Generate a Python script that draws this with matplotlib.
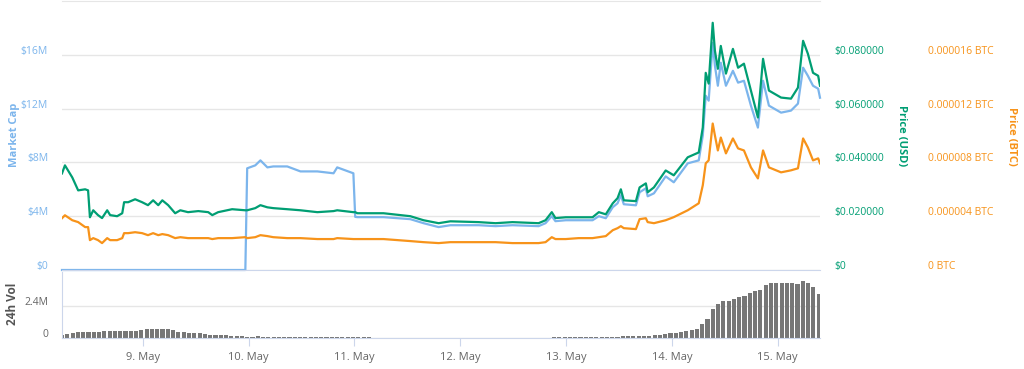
import matplotlib
matplotlib.use("Agg")
import matplotlib.pyplot as plt
import matplotlib.dates as mdates
import matplotlib.transforms as mtransforms
from matplotlib.ticker import FuncFormatter
import pandas as pd

plt.rcParams['font.family'] = ['Open Sans', 'DejaVu Sans']

# время точек (май 2018)
times = [
    "05-08 05:40", "05-08 06:20", "05-08 08:00", "05-08 09:20", "05-08 10:55",
    "05-08 11:35", "05-08 12:00", "05-08 12:45", "05-08 13:50", "05-08 14:45",
    "05-08 15:55", "05-08 16:35", "05-08 18:10", "05-08 19:20", "05-08 19:45",
    "05-08 20:40", "05-08 22:15", "05-08 23:50", "05-09 01:10", "05-09 02:20",
    "05-09 03:30", "05-09 04:25", "05-09 05:45", "05-09 07:20", "05-09 08:30",
    "05-09 10:15", "05-09 12:35", "05-09 14:50", "05-09 15:45", "05-09 17:05",
    "05-09 20:15", "05-09 23:15", "05-09 23:40", "05-10 01:30", "05-10 02:40",
    "05-10 04:15", "05-10 05:35", "05-10 08:45", "05-10 11:45", "05-10 15:35",
    "05-10 19:15", "05-10 20:05", "05-10 23:45", "05-11 00:10", "05-11 00:40",
    "05-11 06:35", "05-11 12:40", "05-11 15:40", "05-11 19:05", "05-11 21:45",
    "05-12 04:10", "05-12 08:00", "05-12 11:50", "05-12 17:45", "05-12 19:20",
    "05-12 20:45", "05-12 21:35", "05-12 23:55", "05-13 02:50", "05-13 06:00",
    "05-13 07:25", "05-13 09:00", "05-13 10:35", "05-13 11:40", "05-13 12:25",
    "05-13 13:05", "05-13 15:50", "05-13 16:40", "05-13 18:05", "05-13 18:30",
    "05-13 19:55", "05-13 22:35", "05-14 00:25", "05-14 03:35", "05-14 06:05",
    "05-14 07:00", "05-14 07:40", "05-14 08:20", "05-14 09:15", "05-14 09:45",
    "05-14 10:25", "05-14 11:05", "05-14 12:15", "05-14 13:50", "05-14 15:00",
    "05-14 16:20", "05-14 17:55", "05-14 19:30", "05-14 20:40", "05-14 22:00",
    "05-15 00:45", "05-15 03:00", "05-15 04:35", "05-15 05:45", "05-15 06:50",
    "05-15 08:00", "05-15 09:10", "05-15 09:35",
]

# капитализация, млн $
market_cap = [0] * 32 + [
    7.56, 7.78, 8.15, 7.63, 7.70, 7.70, 7.33, 7.33, 7.19, 7.63,
    7.19, 3.95, 3.93, 3.93, 3.78, 3.48, 3.19, 3.33, 3.33, 3.26,
    3.33, 3.26, 3.48, 4.00, 3.63, 3.70, 3.70, 3.70, 4.00, 3.85,
    4.67, 4.96, 5.56, 4.89, 4.81, 5.78, 6.07, 5.48, 5.70, 6.96,
    6.52, 7.93, 8.15, 10.0, 12.96, 12.59, 16.89, 15.19, 13.70, 15.41,
    13.70, 14.81, 13.93, 14.07, 12.22, 10.59, 14.07, 12.22, 11.70, 11.85,
    12.37, 15.04, 14.44, 13.70, 13.48, 12.81,
]

# цена в $
price_usd = [
    0.0359, 0.0389, 0.0344, 0.0296, 0.0300, 0.0296, 0.0196, 0.0222, 0.0204, 0.0193,
    0.0222, 0.0204, 0.0200, 0.0211, 0.0252, 0.0252, 0.0263, 0.0252, 0.0241, 0.0259,
    0.0241, 0.0259, 0.0241, 0.0211, 0.0222, 0.0215, 0.0219, 0.0215, 0.0204, 0.0215,
    0.0226, 0.0222, 0.0222, 0.0230, 0.0241, 0.0233, 0.0230, 0.0226, 0.0222, 0.0215,
    0.0219, 0.0222, 0.0215, 0.0215, 0.0211, 0.0211, 0.0200, 0.0185, 0.0174, 0.0181,
    0.0178, 0.0174, 0.0178, 0.0174, 0.0185, 0.0215, 0.0193, 0.0196, 0.0196, 0.0196,
    0.0215, 0.0207, 0.0248, 0.0267, 0.0300, 0.0259, 0.0256, 0.0307, 0.0322, 0.0289,
    0.0307, 0.0370, 0.0352, 0.0419, 0.0437, 0.0530, 0.0733, 0.0693, 0.0919, 0.0815,
    0.0748, 0.0833, 0.0730, 0.0822, 0.0752, 0.0767, 0.0667, 0.0567, 0.0785, 0.0667,
    0.0641, 0.0637, 0.0678, 0.0852, 0.0804, 0.0733, 0.0722, 0.0685,
]

# цена в BTC, в миллионных долях
price_btc_e6 = [
    3.85, 4.07, 3.70, 3.56, 3.19, 3.19, 2.22, 2.37, 2.22, 2.00,
    2.37, 2.22, 2.22, 2.37, 2.74, 2.74, 2.81, 2.74, 2.59, 2.74,
    2.59, 2.67, 2.59, 2.37, 2.44, 2.37, 2.37, 2.37, 2.30, 2.37,
    2.37, 2.44, 2.37, 2.44, 2.59, 2.52, 2.44, 2.37, 2.37, 2.30,
    2.30, 2.37, 2.30, 2.30, 2.30, 2.30, 2.15, 2.07, 2.00, 2.07,
    2.07, 2.07, 2.00, 2.00, 2.07, 2.44, 2.30, 2.30, 2.37, 2.37,
    2.44, 2.52, 2.96, 3.11, 3.26, 3.11, 3.04, 3.78, 3.85, 3.56,
    3.48, 3.70, 3.93, 4.44, 4.96, 6.30, 7.93, 8.15, 10.89, 10.00,
    8.89, 9.85, 8.67, 9.78, 9.04, 8.89, 7.63, 6.81, 8.89, 7.63,
    7.26, 7.41, 7.56, 9.78, 9.11, 8.15, 8.30, 7.93,
]

# объём за 24ч, млн $ (столбики каждые 72 минуты)
vol_start = "2018-05-08 05:40"
volume = [
    0.20, 0.30, 0.40, 0.45, 0.45, 0.48, 0.48, 0.48, 0.50, 0.50,
    0.50, 0.50, 0.50, 0.52, 0.55, 0.58, 0.65, 0.65, 0.65, 0.65,
    0.65, 0.60, 0.45, 0.42, 0.40, 0.40, 0.35, 0.30, 0.25, 0.22,
    0.25, 0.22, 0.18, 0.15, 0.12, 0.10, 0.10, 0.12, 0.10, 0.08,
    0.07, 0.07, 0.06, 0.06, 0.06, 0.06, 0.05, 0.05, 0.05, 0.05,
    0.05, 0.04, 0.04, 0.04, 0.04, 0.04, 0.04, 0.04, 0.04, 0.03,
    0.03, 0.03, 0.03, 0.03, 0.03, 0.03, 0, 0.02, 0, 0,
    0, 0, 0, 0, 0, 0, 0, 0, 0, 0,
    0, 0, 0, 0, 0, 0, 0, 0, 0, 0,
    0, 0, 0, 0.04, 0.04, 0.04, 0.05, 0.05, 0.05, 0.06,
    0.06, 0.07, 0.08, 0.09, 0.10, 0.10, 0.12, 0.13, 0.14, 0.15,
    0.16, 0.18, 0.20, 0.25, 0.30, 0.35, 0.38, 0.45, 0.52, 0.58,
    0.65, 1.03, 1.40, 2.15, 2.53, 2.72, 2.72, 2.90, 3.08, 3.15,
    3.33, 3.48, 3.58, 3.90, 4.07, 4.07, 4.07, 4.07, 4.05, 4.02,
    4.22, 4.07, 3.78, 3.28,
]

c_cap = '#7cb5ec'
c_usd = '#009e73'
c_btc = '#f7931a'
c_vol = '#777777'
c_axis = '#ccd6eb'
c_grid = '#e6e6e6'

t = pd.to_datetime(["2018-" + s for s in times])
vol_t = pd.date_range(vol_start, periods=len(volume), freq="72min")

fig = plt.figure(figsize=(10.24, 3.69), dpi=100)
W, H = 1024, 369
ax = fig.add_axes([62 / W, 1 - 270 / H, 758 / W, 269 / H])
axv = fig.add_axes([62 / W, 1 - 338 / H, 758 / W, 66 / H], sharex=ax)
ax_usd = ax.twinx()
ax_btc = ax.twinx()

# сдвиг подписей чуть выше линий сетки
up = mtransforms.ScaledTranslation(0, 0.05, fig.dpi_scale_trans)

ax.plot(t, market_cap, color=c_cap, lw=1.6, clip_on=False)
ax.set_ylim(0, 20)
ax.set_yticks([0, 4, 8, 12, 16])
ax.set_yticklabels(["$0", "$4M", "$8M", "$12M", "$16M"])
ax.tick_params(axis='y', length=0, pad=10, labelsize=7.5, labelcolor=c_cap)
ax.grid(axis='y', color=c_grid, lw=1)
ax.tick_params(axis='x', length=0, labelbottom=False)
for s in ['left', 'right']:
    ax.spines[s].set_visible(False)
ax.spines['top'].set_color(c_grid)
ax.spines['bottom'].set_color(c_axis)

ax_usd.plot(t, price_usd, color=c_usd, lw=1.6)
ax_usd.set_ylim(0, 0.1)
ax_usd.set_yticks([0, 0.02, 0.04, 0.06, 0.08])
ax_usd.set_yticklabels(["$0", "$0.020000", "$0.040000", "$0.060000", "$0.080000"])
ax_usd.tick_params(axis='y', length=0, pad=10, labelsize=7.5, labelcolor=c_usd)

ax_btc.plot(t, price_btc_e6, color=c_btc, lw=1.6)
ax_btc.set_ylim(0, 20)
ax_btc.set_yticks([0, 4, 8, 12, 16])
ax_btc.set_yticklabels(["0 BTC", "0.000004 BTC", "0.000008 BTC", "0.000012 BTC", "0.000016 BTC"])
ax_btc.tick_params(axis='y', length=0, pad=78, labelsize=7.5, labelcolor=c_btc)

for a in [ax_usd, ax_btc]:
    for s in a.spines.values():
        s.set_visible(False)
    a.tick_params(axis='x', length=0, labelbottom=False)

for a in [ax, ax_usd, ax_btc]:
    for lab in a.get_yticklabels():
        lab.set_transform(lab.get_transform() + up)

# объём
axv.bar(vol_t, volume, width=1.2 / 24 * 0.78, color=c_vol)
axv.set_ylim(0, 4.9)
axv.set_yticks([0, 2.4])
axv.set_yticklabels(["0", "2.4M"])
axv.tick_params(axis='y', length=0, pad=10, labelsize=7.5, labelcolor='#666666')
axv.grid(axis='y', color=c_grid, lw=1)
axv.set_axisbelow(True)
for s in ['top', 'right']:
    axv.spines[s].set_visible(False)
axv.spines['left'].set_color(c_axis)
axv.spines['bottom'].set_color(c_axis)
for lab in axv.get_yticklabels():
    lab.set_transform(lab.get_transform() + up)

axv.xaxis.set_major_locator(mdates.DayLocator())
axv.xaxis.set_major_formatter(FuncFormatter(lambda v, p: f"{mdates.num2date(v).day}. {mdates.num2date(v):%b}"))
axv.tick_params(axis='x', length=6, color=c_axis, labelsize=8, labelcolor='#666666', pad=4)
axv.set_xlim(t[0], t[-1])

fig.text(14 / W, 1 - 135 / H, "Market Cap", rotation=90, color=c_cap, ha='center', va='center',
         fontsize=8, fontweight='bold')
fig.text(12 / W, 1 - 304 / H, "24h Vol", rotation=90, color='#555555', ha='center', va='center',
         fontsize=8.5, fontweight='bold')
fig.text(902 / W, 1 - 136 / H, "Price (USD)", rotation=270, color=c_usd, ha='center', va='center',
         fontsize=8, fontweight='bold')
fig.text(1012 / W, 1 - 136 / H, "Price (BTC)", rotation=270, color=c_btc, ha='center', va='center',
         fontsize=8, fontweight='bold')

fig.savefig("out.png", dpi=100)
